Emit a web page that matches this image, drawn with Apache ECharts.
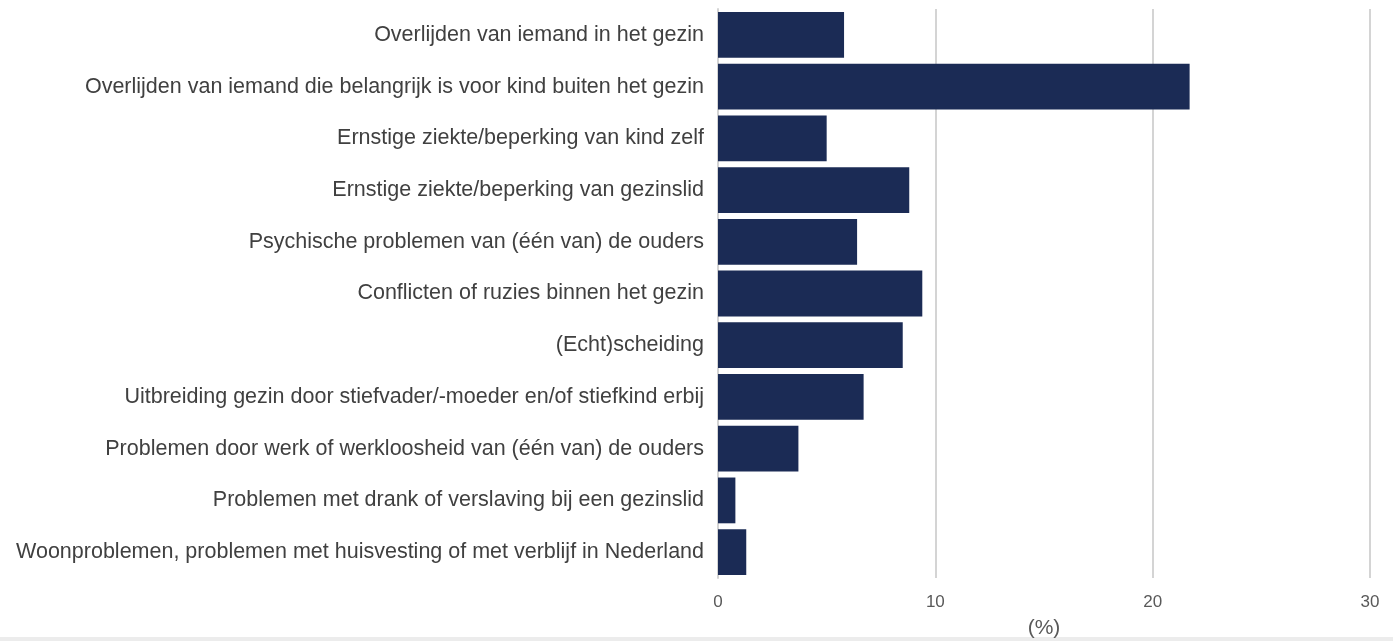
<!DOCTYPE html>
<html>
<head>
<meta charset="utf-8">
<script src="https://cdn.jsdelivr.net/npm/echarts@6/dist/echarts.min.js"></script>
<style>
html,body{margin:0;padding:0;background:#fff;}
#chart{width:1393px;height:641px;}
</style>
</head>
<body>
<div id="chart"></div>
<script>
const categories = [
  "Overlijden van iemand in het gezin",
  "Overlijden van iemand die belangrijk is voor kind buiten het gezin",
  "Ernstige ziekte/beperking van kind zelf",
  "Ernstige ziekte/beperking van gezinslid",
  "Psychische problemen van (één van) de ouders",
  "Conflicten of ruzies binnen het gezin",
  "(Echt)scheiding",
  "Uitbreiding gezin door stiefvader/-moeder en/of stiefkind erbij",
  "Problemen door werk of werkloosheid van (één van) de ouders",
  "Problemen met drank of verslaving bij een gezinslid",
  "Woonproblemen, problemen met huisvesting of met verblijf in Nederland"
];
const values = [5.8, 21.7, 5.0, 8.8, 6.4, 9.4, 8.5, 6.7, 3.7, 0.8, 1.3];
const xTicks = [0, 10, 20, 30];
const axisName = "(%)";

const chart = echarts.init(document.getElementById('chart'));
chart.setOption({
  animation: false,
  backgroundColor: '#fff',
  grid: { left: 718, right: 23, top: 9, bottom: 63, containLabel: false, outerBoundsMode: 'none' },
  graphic: [{
    type: 'rect', left: 0, bottom: 0,
    shape: { width: 1393, height: 4 },
    style: { fill: '#ececec' }
  }],
  xAxis: {
    type: 'value', min: xTicks[0], max: xTicks[xTicks.length - 1], interval: 10,
    name: axisName, nameLocation: 'middle', nameGap: 40,
    nameTextStyle: { fontFamily: 'Liberation Sans', fontSize: 21, color: '#595959' },
    axisLine: { show: false }, axisTick: { show: false },
    axisLabel: { fontFamily: 'Liberation Sans', fontSize: 17, color: '#595959', margin: 16 },
    splitLine: { show: true, lineStyle: { color: '#d4d4d4', width: 2 } }
  },
  yAxis: {
    type: 'category', data: categories, inverse: true,
    axisLine: { show: true, lineStyle: { color: '#d4d4d4', width: 2 } },
    axisTick: { show: false },
    axisLabel: { fontFamily: 'Liberation Sans', fontSize: 21.5, color: '#404040', margin: 14, padding: [4, 0, 0, 0] }
  },
  series: [{
    type: 'bar', data: values, barCategoryGap: '11.5%',
    itemStyle: { color: '#1b2b55' }
  }]
});
</script>
</body>
</html>
